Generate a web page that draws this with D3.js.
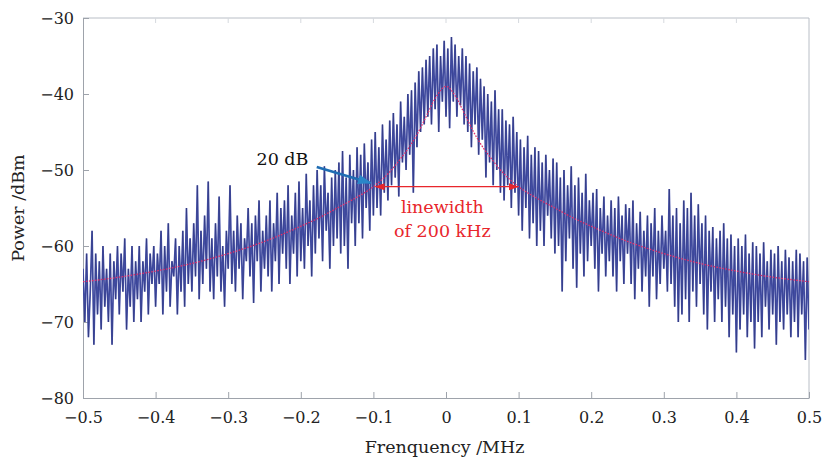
<!DOCTYPE html>
<html>
<head>
<meta charset="utf-8">
<script src="https://cdn.jsdelivr.net/npm/d3@7"></script>
<style>
  body { margin: 0; background: #fff; }
  svg text { font-family: "DejaVu Serif", serif; }
  .axis path, .axis line { stroke: #9ea3ab; }
  .axis text { fill: #222; font-size: 16px; }
</style>
</head>
<body>
<svg id="chart"></svg>
<script>
const xTicks = [-0.5, -0.4, -0.3, -0.2, -0.1, 0, 0.1, 0.2, 0.3, 0.4, 0.5];
const xTickLabels = ["−0.5", "−0.4", "−0.3", "−0.2", "−0.1", "0", "0.1", "0.2", "0.3", "0.4", "0.5"];
const yTicks = [-80, -70, -60, -50, -40, -30];
const yTickLabels = ["−80", "−70", "−60", "−50", "−40", "−30"];

// measured spectrum, dBm, evenly spaced from -0.5 to 0.5 MHz
const tracePower = [
  -63,-70,-61,-72,-66,-58,-73,-61,-69,-62,
  -71,-60,-68,-63,-70,-61,-73,-62,-67,-60,
  -69,-61,-66,-59,-71,-63,-68,-60,-70,-62,
  -67,-60,-70,-62,-66,-59,-69,-61,-65,-60,
  -68,-61,-65,-58,-69,-60,-66,-57,-68,-62,
  -64,-59,-69,-60,-66,-58,-68,-55,-65,-59,
  -66,-57,-64,-52,-67,-58,-65,-56,-63,-51.5,
  -66,-59,-67,-57,-64,-53.5,-66,-60,-68,-58,
  -63,-52,-65,-58,-66,-56,-63,-57,-67,-59,
  -62,-55,-64,-57,-67.5,-56,-62,-54,-66,-58,
  -63,-56,-64,-54,-66,-57,-62,-53,-65,-55,
  -61,-54,-63,-52,-65,-56,-61,-53,-64,-51.5,
  -62,-55,-63,-50.5,-60,-54,-64,-52,-61,-50,
  -59,-52,-62,-49.5,-58,-53,-63,-51,-60,-50,
  -59,-49,-61,-47.5,-60,-51,-63,-48,-57,-50,
  -60,-47,-57,-48,-59,-46.5,-55,-49,-58,-46,
  -56,-45,-55,-47,-56,-44,-53,-46,-54,-43.5,
  -52,-42.5,-51,-44,-53.5,-41,-49,-43,-50,-40,
  -48,-39.5,-53,-38.5,-47,-37,-45,-36.5,-44,-35.5,
  -43,-35,-44,-34,-42,-33.5,-45,-35,-41,-33,
  -43,-34,-44.5,-32.5,-41,-33.5,-43,-35,-41.5,-34,
  -44,-35,-45,-36,-47,-37,-44,-36.5,-48,-38,
  -46,-39,-51,-40,-49,-41,-52,-39.5,-50,-42,
  -53,-42,-54,-43.5,-52,-44,-55,-43,-53,-45,
  -56,-46,-58,-47,-55,-45.5,-59,-48,-57,-47,
  -60,-47.5,-58,-49,-60,-48,-56,-50,-59,-48.5,
  -61,-49,-60,-51,-66,-50,-62,-52,-59,-49.5,
  -63,-52,-65.5,-51,-61,-53,-64,-50.5,-62,-54,
  -60,-53,-63,-52.5,-66,-55,-61,-53.5,-64,-56,
  -62,-54,-64,-55,-66,-53.5,-62,-56,-65,-54.5,
  -61,-55,-65,-54,-67,-57,-63,-55.5,-66,-58,
  -64,-56,-68,-57,-64,-55,-67,-58,-65,-56,
  -63,-58,-66,-52.5,-65,-56,-68,-55,-70,-57,
  -69,-54,-67,-55,-70,-53,-66,-56,-68,-54.5,
  -65,-57,-69,-56,-71,-58,-66,-57.5,-70,-59,
  -67,-58,-70,-57,-68,-59,-72,-58.5,-69,-60,
  -74,-59,-71,-60,-69,-58.5,-72,-61,-70,-59.5,
  -73.5,-60,-70,-61,-72,-59.5,-68,-62,-71,-60.5,
  -69,-61,-73,-60,-70,-62,-71,-60.5,-69,-61.5,
  -72,-62,-70,-60.5,-72,-61,-69,-62,-75,-61.5,
  -71
];

// Lorentzian fit (red dotted)
const fitFreq = [-0.5, -0.45, -0.4, -0.35, -0.3, -0.25, -0.2, -0.175, -0.15, -0.125, -0.1, -0.0875, -0.075, -0.0625, -0.05, -0.0375, -0.025, -0.0125, 0,
  0.0125, 0.025, 0.0375, 0.05, 0.0625, 0.075, 0.0875, 0.1, 0.125, 0.15, 0.175, 0.2, 0.25, 0.3, 0.35, 0.4, 0.45, 0.5];
const fitPower = [-64.7, -64.1, -63.3, -62.3, -61.0, -59.4, -57.4, -56.3, -55.0, -53.7, -52.2, -51.2, -50.0, -48.5, -46.9, -44.9, -42.5, -40.2, -39.0,
  -40.2, -42.5, -44.9, -46.9, -48.5, -50.0, -51.2, -52.2, -53.7, -55.0, -56.3, -57.4, -59.4, -61.0, -62.3, -63.3, -64.1, -64.7];

const width = 824, height = 457;
const margin = {top: 18, right: 15, bottom: 59, left: 83};
const w = width - margin.left - margin.right;
const h = height - margin.top - margin.bottom;

const svg = d3.select("#chart").attr("width", width).attr("height", height);
const g = svg.append("g").attr("transform", `translate(${margin.left},${margin.top})`);

const x = d3.scaleLinear().domain([-0.5, 0.5]).range([0, w]);
const y = d3.scaleLinear().domain([-80, -30]).range([h, 0]);

const defs = svg.append("defs");
defs.append("clipPath").attr("id", "clip")
  .append("rect").attr("width", w).attr("height", h);

function marker(id, color, size) {
  defs.append("marker")
    .attr("id", id)
    .attr("viewBox", "0 0 10 10")
    .attr("refX", 9).attr("refY", 5)
    .attr("markerWidth", size).attr("markerHeight", size)
    .attr("markerUnits", "userSpaceOnUse")
    .attr("orient", "auto-start-reverse")
    .append("path").attr("d", "M0,1.5 L10,5 L0,8.5 Z").attr("fill", color);
}
marker("redHead", "#e8262c", 10);
marker("blueHead", "#2a86c8", 14);

// box
g.append("line").attr("x1", 0).attr("x2", w).attr("y1", 0).attr("y2", 0).attr("stroke", "#b9bec6");
g.append("line").attr("x1", w).attr("x2", w).attr("y1", 0).attr("y2", h).attr("stroke", "#b9bec6");
g.selectAll(".topTick").data(xTicks.slice(1, -1)).join("line")
  .attr("x1", d => x(d)).attr("x2", d => x(d)).attr("y1", 0).attr("y2", 5)
  .attr("stroke", "#d6d9de");

g.append("g").attr("class", "axis").attr("transform", `translate(0,${h})`)
  .call(d3.axisBottom(x).tickValues(xTicks).tickFormat((d, i) => xTickLabels[i])
    .tickSizeInner(-6).tickSizeOuter(0).tickPadding(14));
g.append("g").attr("class", "axis")
  .call(d3.axisLeft(y).tickValues(yTicks).tickFormat((d, i) => yTickLabels[i])
    .tickSizeInner(-6).tickSizeOuter(0).tickPadding(9));

const traceStep = 1 / (tracePower.length - 1);
const trace = tracePower.map((p, i) => ({f: -0.5 + i * traceStep, p}));
const traceLine = d3.line().x(d => x(d.f)).y(d => y(d.p));

// wide blue body plus a thin dark core, like the printed trace
g.append("path")
  .datum(trace)
  .attr("clip-path", "url(#clip)")
  .attr("fill", "none")
  .attr("stroke", "#4854b0")
  .attr("stroke-width", 1.7)
  .attr("d", traceLine);
g.append("path")
  .datum(trace)
  .attr("clip-path", "url(#clip)")
  .attr("fill", "none")
  .attr("stroke", "#1d2052")
  .attr("stroke-opacity", 0.5)
  .attr("stroke-width", 0.6)
  .attr("d", traceLine);

const fit = fitFreq.map((f, i) => ({f, p: fitPower[i]}));
g.append("path")
  .datum(fit)
  .attr("fill", "none")
  .attr("stroke", "#e0306a")
  .attr("stroke-width", 1.3)
  .attr("stroke-dasharray", "1.6,1.4")
  .attr("d", d3.line().curve(d3.curveMonotoneX).x(d => x(d.f)).y(d => y(d.p)));

// linewidth annotation
g.append("line")
  .attr("x1", x(-0.097)).attr("x2", x(0.099))
  .attr("y1", y(-52.2)).attr("y2", y(-52.2))
  .attr("stroke", "#e8262c").attr("stroke-width", 1.2)
  .attr("marker-start", "url(#redHead)")
  .attr("marker-end", "url(#redHead)");

g.append("text").attr("x", x(-0.005)).attr("y", y(-55.7))
  .attr("text-anchor", "middle").attr("fill", "#e8262c").attr("font-size", 17.5)
  .text("linewidth");
g.append("text").attr("x", x(-0.005)).attr("y", y(-58.85))
  .attr("text-anchor", "middle").attr("fill", "#e8262c").attr("font-size", 17.5)
  .text("of 200 kHz");

// 20 dB arrow
g.append("text").attr("x", x(-0.261)).attr("y", y(-49.3))
  .attr("fill", "#111").attr("font-size", 17.5)
  .text("20 dB");
g.append("line")
  .attr("x1", x(-0.178)).attr("y1", y(-49.6))
  .attr("x2", x(-0.104)).attr("y2", y(-51.7))
  .attr("stroke", "#1f6db3").attr("stroke-width", 2.6)
  .attr("marker-end", "url(#blueHead)");

// axis titles
svg.append("text")
  .attr("transform", `translate(24,${margin.top + h / 2}) rotate(-90)`)
  .attr("text-anchor", "middle").attr("font-size", 17.5).attr("fill", "#222")
  .text("Power /dBm");
svg.append("text")
  .attr("x", margin.left + x(-0.002)).attr("y", 453)
  .attr("text-anchor", "middle").attr("font-size", 17.5).attr("fill", "#222")
  .text("Frenquency /MHz");
</script>
</body>
</html>
